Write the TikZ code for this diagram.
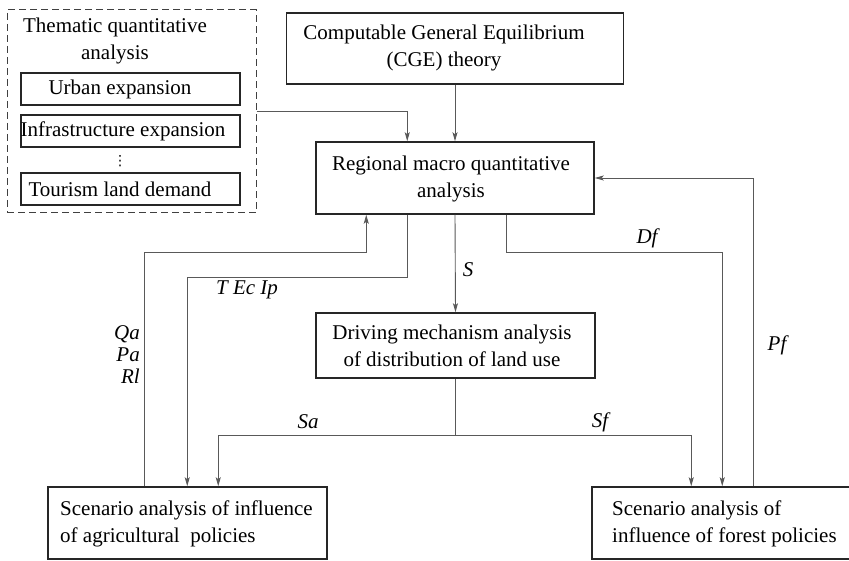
\documentclass[tikz,border=0pt]{standalone}
\usepackage{fontspec}
\setmainfont{Liberation Serif}
\newfontfamily\symfont{DejaVu Sans}
\usetikzlibrary{arrows.meta}
\begin{document}
\begin{tikzpicture}[x=1pt,y=-1pt,
  box/.style={draw=black!85,line width=1.5pt,inner sep=0pt},
  txt/.style={inner sep=0pt,align=center,font=\fontsize{21}{27}\selectfont},
  ltxt/.style={txt,align=left},
  lbl/.style={inner sep=0pt,font=\fontsize{21}{22}\selectfont\itshape},
  conn/.style={draw=black!65,line width=0.9pt},
  arr/.style={conn,-{Stealth[length=9pt,width=5pt,inset=2pt]}}]
\fill[white] (0,0) rectangle (849,561);
\useasboundingbox (0,0) rectangle (849,561);

% thematic analysis group
\node[draw=black!75,line width=1pt,dash pattern=on 7pt off 4pt,inner sep=0pt,
      minimum width=249pt,minimum height=203pt] (frame) at (131.5,111.5) {};
\node[txt] (themtitle) at (115,41) {Thematic quantitative\\analysis};
\node[box,minimum width=219pt,minimum height=32pt] (urban) at (130.5,89) {};
\node[txt] (urbantxt) at (120,89) {Urban expansion};
\node[box,minimum width=219pt,minimum height=32pt] (infra) at (130.5,131) {};
\node[txt] (infratxt) at (123,131) {Infrastructure expansion};
\node[inner sep=0pt,font=\symfont\fontsize{14}{14}\selectfont] (dots) at (120,161) {⋮};
\node[box,minimum width=219pt,minimum height=32pt] (tour) at (130.5,189) {};
\node[txt] (tourtxt) at (120,189) {Tourism land demand};

% main boxes
\node[box,minimum width=337pt,minimum height=71pt] (cge) at (455,48.5) {};
\node[txt] (cgetxt) at (444,48) {Computable General Equilibrium\\(CGE) theory};
\node[box,minimum width=278pt,minimum height=72pt] (regional) at (455,178) {};
\node[txt] (regtxt) at (451,178.5) {Regional macro quantitative\\analysis};
\node[box,minimum width=279pt,minimum height=65pt] (driving) at (455.5,345.5) {};
\node[txt] (drvtxt) at (452,346) {Driving mechanism analysis\\of distribution of land use};
\node[box,minimum width=279pt,minimum height=72pt] (agri) at (187.5,523) {};
\node[ltxt,anchor=west] (agritxt) at (60,524) {Scenario analysis of influence\\of agricultural\ \ policies};
\node[box,minimum width=262pt,minimum height=72pt] (forest) at (723,523) {};
\node[ltxt,anchor=west] (foresttxt) at (612,524) {Scenario analysis of\\influence of forest policies};

% connectors
\draw[arr] (cge.south) -- (regional.north);
\draw[arr] (frame.east) -| ([xshift=92pt]regional.north west);
\draw[arr] ([xshift=97pt]agri.north west) -- ++(0,-234) -| ([xshift=51pt]regional.south west);
\draw[arr] ([xshift=92pt]regional.south west) -- ++(0,63) -| ([xshift=140pt]agri.north west);
\draw[arr] (regional.south) -- (driving.north);
\draw[arr] ([xshift=191pt]regional.south west) -- ++(0,38) -| ([xshift=131pt]forest.north west);
\draw[arr] ([xshift=162pt]forest.north west) |- (regional.east);
\draw[conn] (driving.south) -- ++(0,57) coordinate (split);
\draw[arr] (split) -| ([xshift=171pt]agri.north west);
\draw[arr] (split) -| ([xshift=100pt]forest.north west);

% labels
\node[lbl] (lteip) at (247,290) {T Ec Ip};
\node[lbl] (ls) at (468,270) {S};
\node[lbl] (ldf) at (647,238) {Df};
\node[lbl] (lpf) at (777,345) {Pf};
\node[lbl] (lsa) at (308,422) {Sa};
\node[lbl] (lsf) at (600,422) {Sf};
\node[lbl,align=right,anchor=east] (lqa) at (140,355) {Qa\\Pa\\Rl};
\end{tikzpicture}
\end{document}
